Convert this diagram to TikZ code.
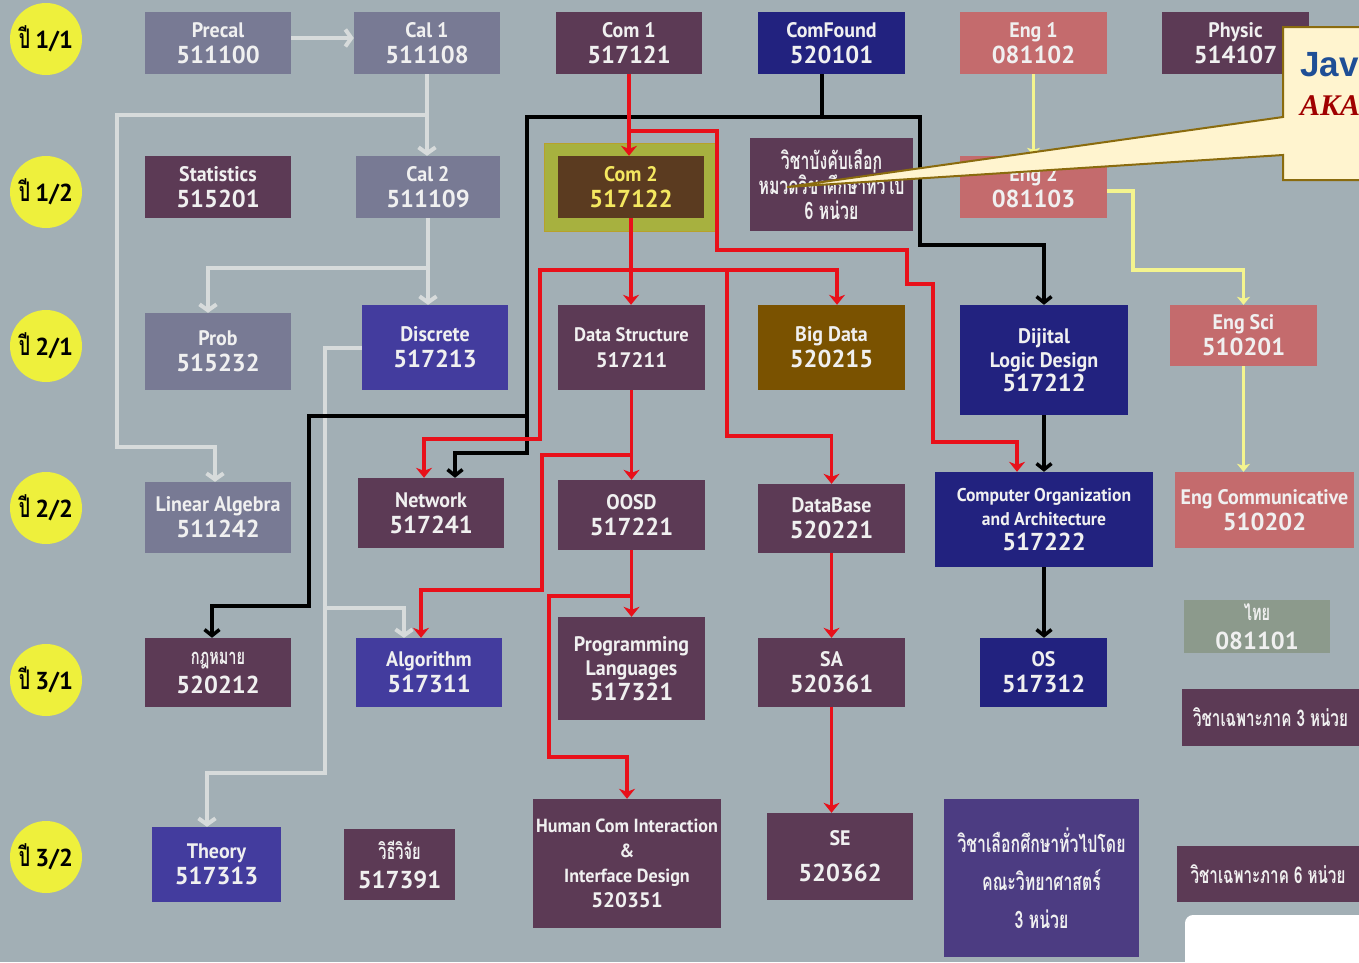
\documentclass[tikz,border=0pt]{standalone}
\usepackage{fontspec}
\setmainfont{PT Sans}[FakeStretch=0.95]
\newfontfamily\nf{PT Sans}
\newfontfamily\thfont[Script=Thai,FakeStretch=0.66]{Loma}
\newfontfamily\callsans{Liberation Sans}
\newfontfamily\callserif{Liberation Serif}
\usetikzlibrary{arrows.meta}

\definecolor{bg}{RGB}{162,175,181}
\definecolor{grayc}{RGB}{120,122,148}
\definecolor{plum}{RGB}{92,58,85}
\definecolor{navy}{RGB}{34,34,127}
\definecolor{indigo}{RGB}{67,60,158}
\definecolor{salmon}{RGB}{196,107,109}
\definecolor{brownc}{RGB}{122,82,0}
\definecolor{olive}{RGB}{167,177,63}
\definecolor{olivedge}{RGB}{184,161,42}
\definecolor{com2in}{RGB}{91,59,32}
\definecolor{com2txt}{RGB}{244,232,96}
\definecolor{sage}{RGB}{140,154,140}
\definecolor{sciviolet}{RGB}{76,60,130}
\definecolor{txt}{RGB}{240,240,240}
\definecolor{lgray}{RGB}{215,219,219}
\definecolor{yline}{RGB}{244,244,142}
\definecolor{rline}{RGB}{232,16,26}
\definecolor{yelc}{RGB}{238,240,60}
\definecolor{cream}{RGB}{255,244,207}
\definecolor{goldedge}{RGB}{138,107,14}
\definecolor{javablue}{RGB}{31,78,150}
\definecolor{akared}{RGB}{160,0,0}

\newcommand\cno[1]{{\nf\fontsize{24.5}{26}\selectfont #1}}
\newcommand\yr[1]{{\thfont\fontsize{27}{24}\selectfont ปี} \cno{#1}}

\begin{document}
\begin{tikzpicture}[x=1pt,y=-1pt,
  course/.style={inner sep=0pt, align=center, text=txt,
    font=\bfseries\fontsize{21}{26}\selectfont},
  thaicourse/.style={course, font=\thfont\bfseries\fontsize{24}{25}\selectfont},
  thaicode/.style={course, font=\thfont\bfseries\fontsize{22}{29}\selectfont},
  sz/.style 2 args={minimum width=#1pt, minimum height=#2pt},
  year/.style={circle, fill=yelc, minimum size=72pt, inner sep=0pt,
    font=\bfseries\fontsize{21}{24}\selectfont},
  gline/.style={draw=lgray, line width=4pt, -{Straight Barb[length=6pt,width=17pt]}},
  bline/.style={draw=black, line width=3.5pt, -{Straight Barb[length=6pt,width=15pt]}},
  rline/.style={draw=rline, line width=3.5pt, -{Stealth[length=10pt,width=16pt,inset=3pt]}},
  yl/.style={draw=yline, line width=3.5pt, -{Stealth[length=8pt,width=13pt,inset=2pt]}}
]
\useasboundingbox (0,0) rectangle (1359,962);
\fill[bg] (0,0) rectangle (1359,962);

% semester markers
\node[year] (y11) at (46,39)  {\yr{1/1}};
\node[year] (y12) at (46,192) {\yr{1/2}};
\node[year] (y21) at (46,346) {\yr{2/1}};
\node[year] (y22) at (46,508) {\yr{2/2}};
\node[year] (y31) at (46,680) {\yr{3/1}};
\node[year] (y32) at (46,857) {\yr{3/2}};

% year 1, term 1
\node[course, sz={146}{62}, fill=grayc]  (precal)   at (218,43)    {Precal\\\cno{511100}};
\node[course, sz={146}{62}, fill=grayc]  (cal1)     at (427,43)    {Cal 1\\\cno{511108}};
\node[course, sz={146}{62}, fill=plum]   (com1)     at (629,43)    {Com 1\\\cno{517121}};
\node[course, sz={147}{62}, fill=navy]   (comfound) at (831.5,43)  {ComFound\\\cno{520101}};
\node[course, sz={147}{62}, fill=salmon] (eng1)     at (1033.5,43) {Eng 1\\\cno{081102}};
\node[course, sz={147}{62}, fill=plum]   (physic)   at (1235.5,43) {Physic\\\cno{514107}};

% year 1, term 2
\node[course, sz={146}{62}, fill=plum]   (stats) at (218,187) {Statistics\\\cno{515201}};
\node[course, sz={144}{62}, fill=grayc]  (cal2)  at (428,187) {Cal 2\\\cno{511109}};
\node[sz={172}{88}, fill=olive, draw=olivedge, line width=1pt] (com2frame) at (630,187) {};
\node[course, sz={146}{62}, fill=com2in, text=com2txt] (com2) at (631,187) {Com 2\\\cno{517122}};
\node[thaicourse, sz={163}{93}, fill=plum] (elect) at (831.5,184.5)
  {วิชาบังคับเลือก\\หมวดวิชาศึกษาทั่วไป\\6 หน่วย};
\node[course, sz={147}{62}, fill=salmon] (eng2) at (1033.5,187) {Eng 2\\\cno{081103}};

% year 2, term 1
\node[course, sz={146}{77}, fill=grayc]  (prob)     at (218,351.5)   {Prob\\\cno{515232}};
\node[course, sz={146}{85}, fill=indigo] (discrete) at (435,347.5)   {Discrete\\\cno{517213}};
\node[course, sz={147}{85}, fill=plum, font=\bfseries\fontsize{19.5}{26}\selectfont]
  (ds) at (631.5,347.5) {Data Structure\\{\nf\fontsize{21}{26}\selectfont 517211}};
\node[course, sz={147}{85}, fill=brownc] (bigdata)  at (831.5,347.5) {Big Data\\\cno{520215}};
\node[course, sz={168}{110}, fill=navy, font=\bfseries\fontsize{21}{24}\selectfont]
  (dijital) at (1044,360) {Dijital\\Logic Design\\\cno{517212}};
\node[course, sz={147}{61}, fill=salmon] (engsci)   at (1243.5,335.5) {Eng Sci\\\cno{510201}};

% year 2, term 2
\node[course, sz={146}{71}, fill=grayc]  (linalg)   at (218,517.5)   {Linear Algebra\\\cno{511242}};
\node[course, sz={146}{70}, fill=plum]   (network)  at (431,513)     {Network\\\cno{517241}};
\node[course, sz={147}{70}, fill=plum]   (oosd)     at (631.5,515)   {OOSD\\\cno{517221}};
\node[course, sz={147}{69}, fill=plum]   (database) at (831.5,518.5) {DataBase\\\cno{520221}};
\node[course, sz={218}{95}, fill=navy, font=\bfseries\fontsize{18.5}{24.5}\selectfont]
  (comporg) at (1044,519.5) {Computer Organization\\and Architecture\\\cno{517222}};
\node[course, sz={179}{76}, fill=salmon] (engcomm)  at (1264.5,510)  {Eng Communicative\\\cno{510202}};

% year 3, term 1
\node[thaicode, sz={146}{69}, fill=plum] (law) at (218,672.5) {กฎหมาย\\\cno{520212}};
\node[course, sz={146}{69}, fill=indigo] (algo) at (429,672.5) {Algorithm\\\cno{517311}};
\node[course, sz={147}{103}, fill=plum, font=\bfseries\fontsize{21}{24.5}\selectfont]
  (pl) at (631.5,668.5) {Programming\\Languages\\\cno{517321}};
\node[course, sz={147}{69}, fill=plum]  (sa) at (831.5,672.5) {SA\\\cno{520361}};
\node[course, sz={127}{69}, fill=navy]  (os) at (1043.5,672.5) {OS\\\cno{517312}};
\node[thaicode, sz={146}{53}, fill=sage] (thai) at (1257,626.5) {ไทย\\\cno{081101}};
\node[thaicourse, sz={177}{57}, fill=plum, font=\thfont\bfseries\fontsize{23}{24}\selectfont]
  (spec3) at (1270.5,717.5) {วิชาเฉพาะภาค 3 หน่วย};

% year 3, term 2
\node[course, sz={129}{75}, fill=indigo] (theory) at (216.5,864.5) {Theory\\\cno{517313}};
\node[thaicode, sz={111}{71}, fill=plum] (research) at (399.5,864.5) {วิธีวิจัย\\\cno{517391}};
\node[course, sz={188}{129}, fill=plum, font=\bfseries\fontsize{19}{25}\selectfont]
  (hci) at (627,863.5) {Human Com Interaction\\\&\\Interface Design\\{\nf\fontsize{21}{25}\selectfont 520351}};
\node[course, sz={146}{87}, fill=plum] (se) at (840,856.5) {SE\\[10pt]\cno{520362}};
\node[thaicourse, sz={195}{158}, fill=sciviolet, font=\thfont\bfseries\fontsize{24}{38}\selectfont]
  (sci3) at (1041.5,878) {วิชาเลือกศึกษาทั่วไปโดย\\คณะวิทยาศาสตร์\\3 หน่วย};
\node[thaicourse, sz={182}{56}, fill=plum, font=\thfont\bfseries\fontsize{23}{24}\selectfont]
  (spec6) at (1268,874) {วิชาเฉพาะภาค 6 หน่วย};

\fill[white, rounded corners=8pt] (1185,915) rectangle (1420,1010);

% junctions on shared connector runs
\coordinate (gj1) at (427,115);
\coordinate (gj2) at (428,268);
\coordinate (gj3) at (325,608);
\coordinate (bj1) at (822,117);
\coordinate (bj2) at (527,416);
\coordinate (rj1) at (629,131);
\coordinate (rj2) at (631,270);
\coordinate (rj3) at (727,270);
\coordinate (rj4) at (631.5,455);
\coordinate (rj5) at (631.5,596);

% mathematics prerequisites
\draw[gline] ([yshift=5pt]precal.east) -- ([yshift=5pt]cal1.west);
\draw[gline] (cal1.south) -- (cal1.south |- cal2.north);
\draw[gline] (gj1) -- (117,115) -- (117,447) -| ([xshift=-3pt]linalg.north);
\draw[gline] (cal2.south) -- (cal2.south |- discrete.north);
\draw[gline] (gj2) -| ([xshift=-10pt]prob.north);
\draw[gline] (discrete.west) -- (325,347.5) -- (325,773) -| ([xshift=-9.5pt]theory.north);
\draw[gline] (gj3) -| ([xshift=-25pt]algo.north);

% computer foundation prerequisites
\draw[bline] ([xshift=-9.5pt]comfound.south) -- (bj1) -- (527,117) -- (527,453) -| ([xshift=24pt]network.north);
\draw[bline] (bj1) -- (920,117) -- (920,245) -| (dijital.north);
\draw[bline] (bj2) -- (309,416) -- (309,606) -| ([xshift=-6pt]law.north);
\draw[bline] (dijital.south) -- (dijital.south |- comporg.north);
\draw[bline] (comporg.south) -- (comporg.south |- os.north);

% programming prerequisites
\draw[rline] (com1.south) -- (com1.south |- com2.north);
\draw[rline] (rj1) -- (717,131) -- (717,250) -- (907,250) -- (907,284) -- (933,284) -- (933,442) -| ([xshift=-27pt]comporg.north);
\draw[rline] (com2.south) -- (com2.south |- ds.north);
\draw[rline] (rj2) -| ([xshift=5.5pt]bigdata.north);
\draw[rline] (rj2) -- (540,270) -- (540,439) -| ([xshift=-7pt]network.north);
\draw[rline] (rj3) -- (727,436) -| (database.north);
\draw[rline] (ds.south) -- (ds.south |- oosd.north);
\draw[rline] (rj4) -- (542,455) -- (542,590) -| ([xshift=-8pt]algo.north);
\draw[rline] (oosd.south) -- (oosd.south |- pl.north);
\draw[rline] (rj5) -- (549,596) -- (549,757) -| (hci.north);
\draw[rline] (database.south) -- (database.south |- sa.north);
\draw[rline] (sa.south) -- (sa.south |- se.north);

% English sequence
\draw[yl] (eng1.south) -- (eng1.south |- eng2.north);
\draw[yl] ([yshift=-4pt]eng2.east) -- (1133,191) -- (1133,270) -| (engsci.north);
\draw[yl] (engsci.south) -- (engsci.south |- engcomm.north);

% callout
\draw[fill=cream, draw=goldedge, line width=2pt, line join=miter]
  (1283,27) -- (1420,27) -- (1420,180) -- (1283,180) -- (1283,155)
  -- (787,187) -- (1283,117) -- cycle;
\node[anchor=base west, inner sep=0pt, text=javablue,
  font=\callsans\bfseries\fontsize{35}{40}\selectfont] (java) at (1300,76) {Java};
\node[anchor=base west, inner sep=0pt, text=akared,
  font=\callserif\bfseries\itshape\fontsize{30}{34}\selectfont] (aka) at (1300,115) {AKA};
\end{tikzpicture}
\end{document}
